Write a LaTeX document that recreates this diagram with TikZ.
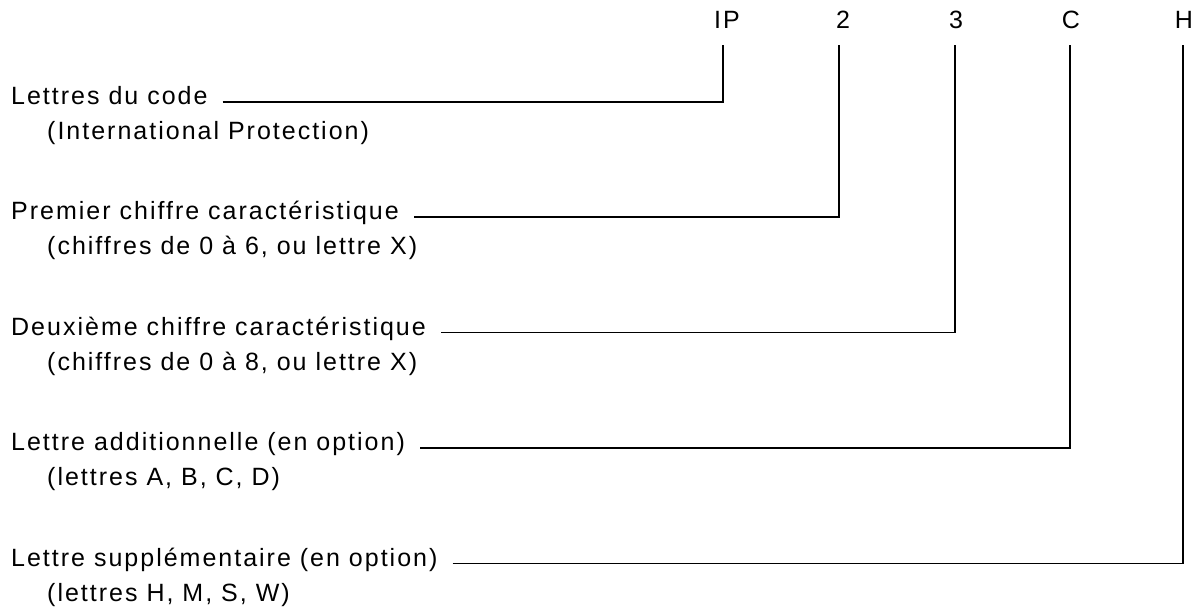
\documentclass[tikz,border=0pt]{standalone}
\usepackage{fontspec}
\setmainfont{Liberation Sans}[LetterSpace=8]
\begin{document}
\begin{tikzpicture}[x=1pt,y=-1pt,
  lab/.style={inner sep=0pt,anchor=base west,font=\fontsize{25}{30}\selectfont},
  top/.style={inner sep=0pt,anchor=base,font=\fontsize{25}{30}\selectfont},
  conn/.style={line width=1.5pt}]
\useasboundingbox (0,0) rectangle (1198,614);
% top code letters
\node[top] (ip) at (727,28) {IP};
\node[top] (c2) at (843,28) {2};
\node[top] (c3) at (956,28) {3};
\node[top] (cc) at (1071,28) {C};
\node[top] (ch) at (1184,28) {H};
% row labels
\node[lab] (l1) at (11,104.5) {Lettres du code};
\node[lab] (s1) at (47,139.5) {(International Protection)};
\node[lab] (l2) at (11,219.5) {Premier chiffre caractéristique};
\node[lab] (s2) at (47,254.5) {(chiffres de 0 à 6, ou lettre X)};
\node[lab] (l3) at (11,335) {Deuxième chiffre caractéristique};
\node[lab] (s3) at (47,370) {(chiffres de 0 à 8, ou lettre X)};
\node[lab] (l4) at (11,450.5) {Lettre additionnelle (en option)};
\node[lab] (s4) at (47,485.5) {(lettres A, B, C, D)};
\node[lab] (l5) at (11,566) {Lettre supplémentaire (en option)};
\node[lab] (s5) at (47,601) {(lettres H, M, S, W)};
% connectors
\coordinate (t1) at ([xshift=-4pt,yshift=-17pt]ip.base);
\coordinate (t2) at ([xshift=-4pt,yshift=-17pt]c2.base);
\coordinate (t3) at ([xshift=-1pt,yshift=-17pt]c3.base);
\coordinate (t4) at ([xshift=-1pt,yshift=-17pt]cc.base);
\coordinate (t5) at ([xshift=-1pt,yshift=-17pt]ch.base);
\draw[conn] ([xshift=15pt,yshift=2.5pt]l1.base east) -| (t1);
\draw[conn] ([xshift=15pt,yshift=2.5pt]l2.base east) -| (t2);
\draw[conn] ([xshift=15pt,yshift=2.5pt]l3.base east) -| (t3);
\draw[conn] ([xshift=15pt,yshift=2.5pt]l4.base east) -| (t4);
\draw[conn] ([xshift=15pt,yshift=2.5pt]l5.base east) -| (t5);
\end{tikzpicture}
\end{document}
